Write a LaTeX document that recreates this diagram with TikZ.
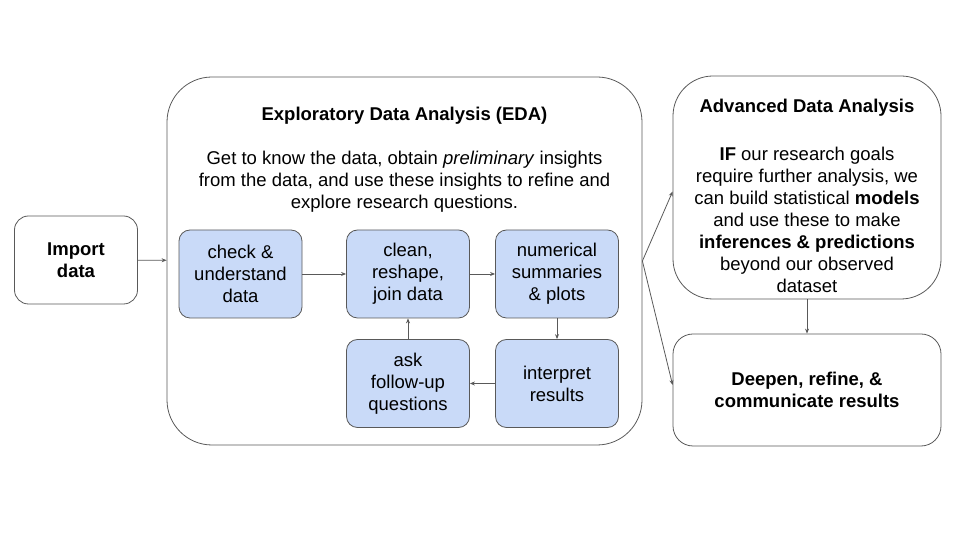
\documentclass[tikz,border=0pt]{standalone}
\usepackage{fontspec}
\setmainfont{Liberation Sans}
\usetikzlibrary{arrows.meta}
\definecolor{edge}{HTML}{595959}
\definecolor{stepblue}{HTML}{C9DAF8}
\begin{document}
\begin{tikzpicture}[x=1pt, y=1pt,
    every node/.style={font=\fontsize{18.5}{22}\selectfont, align=center, inner sep=0pt},
    box/.style={draw=edge, line width=0.8pt, rounded corners=14pt},
    stepbox/.style={box, fill=stepblue, rounded corners=11pt, minimum width=123pt, minimum height=88pt},
    flow/.style={draw=edge, line width=0.8pt, -{Stealth[length=5pt, width=4pt]}}]
    \useasboundingbox (0, 0) rectangle (960, 540);
    \node[box, minimum width=123pt, minimum height=88pt, font=\fontsize{18.5}{22}\selectfont\bfseries] (import) at (76, 280) {Import\\data};
    \node[box, rounded corners=45pt, minimum width=475pt, minimum height=368pt] (eda) at (404.5, 279) {};
    \node[font=\fontsize{18.5}{22}\selectfont\bfseries] (edatitle) at (404.5, 424) {Exploratory Data Analysis (EDA)};
    \node (edatext) at (404.5, 358) {Get to know the data, obtain \textit{preliminary} insights\\
        from the data, and use these insights to refine and\\explore research questions.};
    \node[stepbox] (check) at (240.5, 266) {check \&\\understand\\data};
    \node[stepbox] (clean) at (408, 266) {clean,\\reshape,\\join data};
    \node[stepbox] (summ) at (557, 266) {numerical\\summaries\\\& plots};
    \node[stepbox] (ask) at (408, 156.5) {ask\\follow-up\\questions};
    \node[stepbox] (interp) at (557, 156.5) {interpret\\results};
    \node[box, rounded corners=40pt, minimum width=268pt, minimum height=223pt] (adv) at (807, 352.5) {};
    \node[font=\fontsize{18.5}{22}\selectfont\bfseries] (advtitle) at (807, 432) {Advanced Data Analysis};
    \node (advtext) at (807, 320) {\textbf{IF} our research goals\\require further analysis, we\\
        can build statistical \textbf{models}\\and use these to make\\\textbf{inferences \& predictions}\\
        beyond our observed\\dataset};
    \node[box, rounded corners=20pt, minimum width=268pt, minimum height=112pt, font=\fontsize{18.5}{22}\selectfont\bfseries] (deepen) at (807, 150) {Deepen, refine, \&\\communicate results};
    \draw[flow] (import) -- (eda);
    \draw[flow] (check) -- (clean);
    \draw[flow] (clean) -- (summ);
    \draw[flow] (summ) -- (interp);
    \draw[flow] (interp) -- (ask);
    \draw[flow] (ask) -- (clean);
    \draw[flow] (eda.east) -- ([yshift=-4pt]adv.west);
    \draw[flow] (eda.east) -- ([yshift=5pt]deepen.west);
    \draw[flow] (adv) -- (deepen);
\end{tikzpicture}
\end{document}
